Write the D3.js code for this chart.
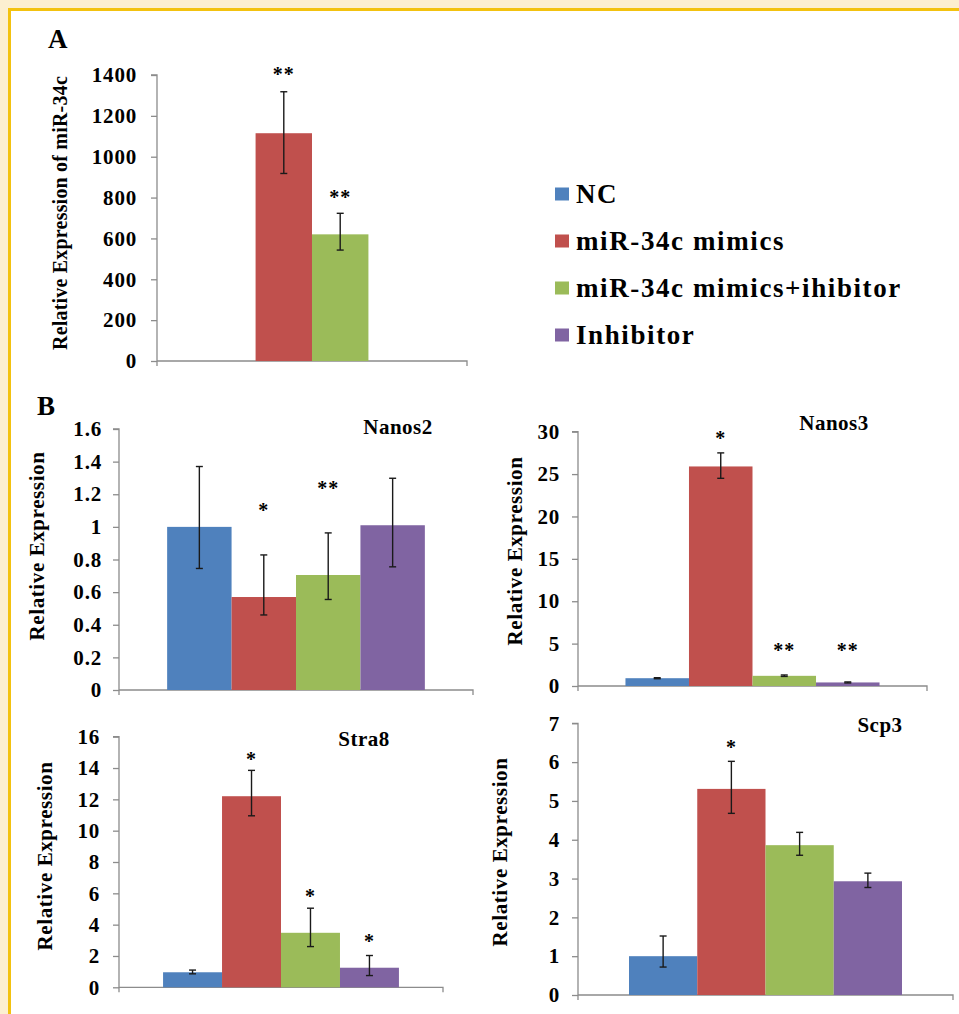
<!DOCTYPE html>
<html>
<head>
<meta charset="utf-8">
<script src="https://cdn.jsdelivr.net/npm/d3@7/dist/d3.min.js"></script>
<style>
  html, body { margin: 0; padding: 0; background: #fcefd0; }
  svg { display: block; }
  text { font-weight: bold; fill: #000; }
</style>
</head>
<body>
<svg id="chart" width="959" height="1014"></svg>
<script>
// ---------------- DATA ----------------
const seriesNames = ["NC", "miR-34c mimics", "miR-34c mimics+ihibitor", "Inhibitor"];
const seriesColors = ["#4f81bd", "#c0504d", "#9bbb59", "#8064a2"];

// Panel A: expression of miR-34c
const aSeries   = ["miR-34c mimics", "miR-34c mimics+ihibitor"];
const aValues   = [1115, 620];
const aErrLow   = [918, 543];
const aErrHigh  = [1318, 723];
const aStars    = ["**", "**"];
const aStarAt   = [1424, 822];
const aTicks    = [0, 200, 400, 600, 800, 1000, 1200, 1400];

// Panel B: Nanos2
const nanos2Values  = [1.0, 0.57, 0.705, 1.01];
const nanos2ErrLow  = [0.745, 0.46, 0.555, 0.755];
const nanos2ErrHigh = [1.37, 0.828, 0.963, 1.298];
const nanos2Stars   = ["", "*", "**", ""];
const nanos2StarAt  = [0, 1.128, 1.263, 0];
const nanos2Ticks   = [0, 0.2, 0.4, 0.6, 0.8, 1, 1.2, 1.4, 1.6];

// Panel B: Nanos3
const nanos3Values  = [0.92, 25.9, 1.2, 0.42];
const nanos3ErrLow  = [0.86, 24.5, 1.13, 0.36];
const nanos3ErrHigh = [0.98, 27.5, 1.3, 0.48];
const nanos3Stars   = ["", "*", "**", "**"];
const nanos3StarAt  = [0, 29.7, 4.75, 4.75];
const nanos3Ticks   = [0, 5, 10, 15, 20, 25, 30];

// Panel B: Stra8
const stra8Values  = [0.96, 12.2, 3.48, 1.25];
const stra8ErrLow  = [0.86, 10.95, 2.6, 0.75];
const stra8ErrHigh = [1.1, 13.85, 5.05, 2.03];
const stra8Stars   = ["", "*", "*", "*"];
const stra8StarAt  = [0, 14.82, 6.1, 3.23];
const stra8Ticks   = [0, 2, 4, 6, 8, 10, 12, 14, 16];

// Panel B: Scp3
const scp3Values  = [1.0, 5.31, 3.86, 2.93];
const scp3ErrLow  = [0.72, 4.68, 3.6, 2.77];
const scp3ErrHigh = [1.52, 6.02, 4.19, 3.14];
const scp3Stars   = ["", "*", "", ""];
const scp3StarAt  = [0, 6.49, 0, 0];
const scp3Ticks   = [0, 1, 2, 3, 4, 5, 6, 7];

const panelLabels = ["A", "B"];
const yTitleA = "Relative Expression of miR-34c";
const yTitleB = "Relative Expression";
const geneTitles = ["Nanos2", "Nanos3", "Stra8", "Scp3"];

// ---------------- FONT PICK ----------------
function pickSerif() {
  const cv = document.createElement("canvas").getContext("2d");
  const sample = "Relative Expression miR-34c 1400";
  cv.font = "bold 40px monospace";
  const base = cv.measureText(sample).width;
  const cands = ["Liberation Serif", "Tinos", "Times New Roman", "Times", "Nimbus Roman", "DejaVu Serif", "Noto Serif"];
  for (const f of cands) {
    cv.font = `bold 40px "${f}", monospace`;
    if (Math.abs(cv.measureText(sample).width - base) > 0.5) return `"${f}", serif`;
  }
  return "serif";
}
const FONT = pickSerif();

// ---------------- LAYOUT ----------------
const svg = d3.select("#chart");
const color = d3.scaleOrdinal().domain(seriesNames).range(seriesColors);

svg.append("rect").attr("x", 0).attr("y", 0).attr("width", 959).attr("height", 1014).attr("fill", "#fcefd0");
svg.append("rect").attr("x", 8).attr("y", 8).attr("width", 959).attr("height", 1014).attr("fill", "#f3c20f");
svg.append("rect").attr("x", 11).attr("y", 11).attr("width", 959).attr("height", 1014).attr("fill", "#ffffff");

function makeRows(names, values, low, high, stars, starAt) {
  return names.map((n, i) => ({ name: n, value: values[i], low: low[i], high: high[i], star: stars[i], starAt: starAt[i] }));
}

const charts = [
  { rows: makeRows(aSeries, aValues, aErrLow, aErrHigh, aStars, aStarAt), ticks: aTicks,
    left: 157, right: 467, y0: 361, yTop: 75, tickOff: 20,
    yTitle: yTitleA, ytX: 60, ytY: 213, ytSize: 20, ytSpace: 0.2, title: null },
  { rows: makeRows(seriesNames, nanos2Values, nanos2ErrLow, nanos2ErrHigh, nanos2Stars, nanos2StarAt), ticks: nanos2Ticks,
    left: 119, right: 473, y0: 690, yTop: 429, tickOff: 17,
    yTitle: yTitleB, ytX: 37, ytY: 546, ytSize: 21, ytSpace: 0.6, title: geneTitles[0], tX: 398, tY: 434 },
  { rows: makeRows(seriesNames, nanos3Values, nanos3ErrLow, nanos3ErrHigh, nanos3Stars, nanos3StarAt), ticks: nanos3Ticks,
    left: 578, right: 927, y0: 686, yTop: 431.7, tickOff: 18,
    yTitle: yTitleB, ytX: 515, ytY: 551, ytSize: 21, ytSpace: 0.6, title: geneTitles[1], tX: 834, tY: 430 },
  { rows: makeRows(seriesNames, stra8Values, stra8ErrLow, stra8ErrHigh, stra8Stars, stra8StarAt), ticks: stra8Ticks,
    left: 119, right: 443, y0: 987.3, yTop: 736.7, tickOff: 19,
    yTitle: yTitleB, ytX: 45, ytY: 856, ytSize: 21, ytSpace: 0.6, title: geneTitles[2], tX: 364, tY: 746 },
  { rows: makeRows(seriesNames, scp3Values, scp3ErrLow, scp3ErrHigh, scp3Stars, scp3StarAt), ticks: scp3Ticks,
    left: 578, right: 953, y0: 995, yTop: 723.3, tickOff: 18,
    yTitle: yTitleB, ytX: 500, ytY: 852, ytSize: 21, ytSpace: 0.6, title: geneTitles[3], tX: 880, tY: 732 }
];

const axisColor = "#8c8c8c";

charts.forEach(c => {
  const g = svg.append("g");
  const y = d3.scaleLinear().domain([0, d3.max(c.ticks)]).range([c.y0, c.yTop]);
  const outer = d3.scaleBand().domain(["group"]).range([c.left, c.right]);
  const cx = outer("group") + outer.bandwidth() / 2;
  const bw = 0.182 * outer.bandwidth();
  const n = c.rows.length;
  const x = d3.scaleBand().domain(c.rows.map(r => r.name)).range([cx - n * bw / 2, cx + n * bw / 2]).padding(0);

  const yAxis = d3.axisLeft(y).tickValues(c.ticks).tickSize(6).tickPadding(c.tickOff - 6)
    .tickFormat(d => d3.format("")(Math.round(d * 10) / 10));
  const ya = g.append("g").attr("transform", `translate(${c.left},0)`).call(yAxis);
  ya.select(".domain").attr("d", `M-6,${c.yTop}H0V${c.y0 + 5}`).attr("stroke", axisColor).attr("stroke-width", 1.3).attr("fill", "none");
  ya.selectAll(".tick line").attr("stroke", axisColor).attr("stroke-width", 1.3);
  ya.selectAll(".tick text").attr("font-size", 21).style("letter-spacing", "0.8px").attr("fill", "#000");

  g.append("path").attr("d", `M${c.left},${c.y0}H${c.right}V${c.y0 + 5}`)
    .attr("stroke", axisColor).attr("stroke-width", 1.3).attr("fill", "none");

  g.selectAll("rect.bar").data(c.rows).join("rect").attr("class", "bar")
    .attr("x", d => x(d.name)).attr("width", x.bandwidth())
    .attr("y", d => y(d.value)).attr("height", d => y(0) - y(d.value))
    .attr("fill", d => color(d.name));

  const eb = g.selectAll("g.err").data(c.rows).join("g").attr("class", "err")
    .attr("stroke", "#1a1a1a").attr("stroke-width", 1.4);
  eb.append("line").attr("x1", d => x(d.name) + x.bandwidth() / 2).attr("x2", d => x(d.name) + x.bandwidth() / 2)
    .attr("y1", d => y(d.low)).attr("y2", d => y(d.high));
  eb.append("line").attr("x1", d => x(d.name) + x.bandwidth() / 2 - 3.5).attr("x2", d => x(d.name) + x.bandwidth() / 2 + 3.5)
    .attr("y1", d => y(d.high)).attr("y2", d => y(d.high));
  eb.append("line").attr("x1", d => x(d.name) + x.bandwidth() / 2 - 3.5).attr("x2", d => x(d.name) + x.bandwidth() / 2 + 3.5)
    .attr("y1", d => y(d.low)).attr("y2", d => y(d.low));

  g.selectAll("text.star").data(c.rows.filter(r => r.star)).join("text").attr("class", "star")
    .attr("x", d => x(d.name) + x.bandwidth() / 2).attr("y", d => y(d.starAt) + 11)
    .attr("text-anchor", "middle").attr("font-size", 20).style("letter-spacing", "1px")
    .attr("fill", "#222").text(d => d.star);

  g.append("text").attr("transform", `translate(${c.ytX + 7},${c.ytY}) rotate(-90)`)
    .attr("text-anchor", "middle").attr("font-size", c.ytSize).style("letter-spacing", c.ytSpace + "px").text(c.yTitle);

  if (c.title) {
    g.append("text").attr("x", c.tX).attr("y", c.tY).attr("text-anchor", "middle")
      .attr("font-size", 21).style("letter-spacing", "0.5px").text(c.title);
  }
});

svg.append("text").attr("x", 48).attr("y", 48).attr("font-size", 27).text(panelLabels[0]);
svg.append("text").attr("x", 37).attr("y", 415).attr("font-size", 27).text(panelLabels[1]);

const legendY = d3.scalePoint().domain(seriesNames).range([193.5, 334.5]);
const lg = svg.append("g").selectAll("g").data(seriesNames).join("g")
  .attr("transform", d => `translate(555,${legendY(d)})`);
lg.append("rect").attr("x", 0).attr("y", -6).attr("width", 14).attr("height", 13).attr("fill", d => color(d));
lg.append("text").attr("x", 21).attr("y", 9).attr("font-size", 27).style("letter-spacing", "1.6px").text(d => d);

svg.selectAll("text").style("font-family", FONT).style("font-weight", "bold");
</script>
</body>
</html>
